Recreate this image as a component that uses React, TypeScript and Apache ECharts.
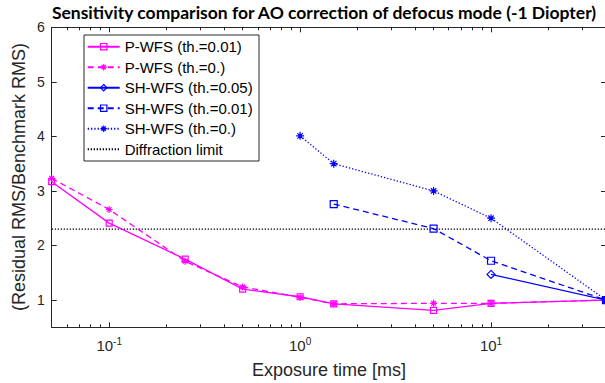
import React, { useEffect, useRef } from "react";
import * as echarts from "echarts";

const xP = [0.05, 0.1, 0.25, 0.5, 1, 1.5, 5, 10, 40];
const pwfs001 = [3.17, 2.41, 1.75, 1.2, 1.06, 0.93, 0.81, 0.94, 1.0];
const pwfs0 = [3.23, 2.66, 1.71, 1.24, 1.05, 0.93, 0.94, 0.94, 1.0];
const xSH005 = [10, 40];
const sh005 = [1.47, 1.0];
const xSH001 = [1.5, 5, 10, 40];
const sh001 = [2.76, 2.31, 1.72, 1.0];
const xSH0 = [1, 1.5, 5, 10, 40];
const sh0 = [4.01, 3.5, 3.0, 2.5, 1.0];
const diffractionX = [0.05, 40];
const diffractionLimit = 2.3;
const xMajorTicks = [0.1, 1, 10];
const xMinorTicks = [0.06, 0.07, 0.08, 0.09, 0.2, 0.3, 0.4, 0.5, 0.6, 0.7, 0.8, 0.9, 2, 3, 4, 5, 6, 7, 8, 9, 20, 30];
const yTicks = [1, 2, 3, 4, 5, 6];

const TITLE = "Sensitivity comparison for AO correction of defocus mode (-1 Diopter)";
const XNAME = "Exposure time [ms]";
const YNAME = "(Residual RMS/Benchmark RMS)";

const MAG = "#ff00ff";
const BLUE = "#0000ff";
const AX = "#262626";
const FONT = "Liberation Sans, Arial, sans-serif";
const ASTER = "path://M5,0L5,10M0,5L10,5M1.6,1.6L8.4,8.4M1.6,8.4L8.4,1.6";
const CLEAR = "rgba(0,0,0,0)";

const zip = (xs: number[], ys: number[]) => xs.map((x, i) => [x, ys[i]]);

const names = [
  "P-WFS (th.=0.01)",
  "P-WFS (th.=0.)",
  "SH-WFS (th.=0.05)",
  "SH-WFS (th.=0.01)",
  "SH-WFS (th.=0.)",
  "Diffraction limit",
];
const legendColors = [MAG, MAG, BLUE, BLUE, BLUE, CLEAR];

export default function App() {
  const ref = useRef<HTMLDivElement>(null);
  useEffect(() => {
    if (!ref.current) return;
    const chart = echarts.init(ref.current, undefined, { renderer: "svg" });
    const xBase = { type: "log", logBase: 10, min: 0.05, max: 40, gridIndex: 0, splitLine: { show: false } };
    const yBase = { type: "value", min: 0.5, max: 6, gridIndex: 0, splitLine: { show: false } };
    const mkSeries = (name: string, data: number[][], color: string, lt: any, symbol: string, size: number) => ({
      name,
      type: "line",
      data,
      symbol,
      symbolSize: size,
      showSymbol: symbol !== "none",
      lineStyle: { color, width: 1.3, type: lt },
      itemStyle: { color: CLEAR, borderColor: color, borderWidth: 1.2 },
      emphasis: { disabled: true },
      silent: true,
      z: 3,
    });
    chart.setOption({
      animation: false,
      grid: { left: 51.7, right: 6, top: 27.3, bottom: 55.7, containLabel: false, outerBoundsMode: "none" },
      xAxis: [
        {
          ...xBase,
          position: "bottom",
          axisLine: { show: true, onZero: false, lineStyle: { color: AX, width: 1 } },
          axisTick: { show: true, inside: true, length: 5, customValues: xMajorTicks, lineStyle: { color: AX } },
          axisLabel: {
            show: true,
            customValues: xMajorTicks,
            margin: 9,
            formatter: (v: number) => `{b|10}{s|${Math.round(Math.log10(v))}}`,
            rich: {
              b: { fontSize: 15, fontFamily: FONT, color: AX, lineHeight: 18 },
              s: { fontSize: 10, fontFamily: FONT, color: AX, lineHeight: 10, verticalAlign: "top" },
            },
          },
        },
        {
          ...xBase,
          position: "bottom",
          axisLine: { show: false, onZero: false },
          axisTick: { show: true, inside: true, length: 3, customValues: xMinorTicks, lineStyle: { color: AX } },
          axisLabel: { show: false },
        },
        {
          ...xBase,
          position: "top",
          axisLine: { show: true, onZero: false, lineStyle: { color: AX, width: 1 } },
          axisTick: { show: true, inside: true, length: 5, customValues: xMajorTicks, lineStyle: { color: AX } },
          axisLabel: { show: false },
        },
        {
          ...xBase,
          position: "top",
          axisLine: { show: false, onZero: false },
          axisTick: { show: true, inside: true, length: 3, customValues: xMinorTicks, lineStyle: { color: AX } },
          axisLabel: { show: false },
        },
      ],
      yAxis: [
        {
          ...yBase,
          position: "left",
          axisLine: { show: true, onZero: false, lineStyle: { color: AX, width: 1 } },
          axisTick: { show: true, inside: true, length: 5, customValues: yTicks, lineStyle: { color: AX } },
          axisLabel: { show: true, customValues: yTicks, margin: 7, fontSize: 14, fontFamily: FONT, color: AX },
        },
        {
          ...yBase,
          position: "right",
          axisLine: { show: true, onZero: false, lineStyle: { color: AX, width: 1 } },
          axisTick: { show: true, inside: true, length: 5, customValues: yTicks, lineStyle: { color: AX } },
          axisLabel: { show: false },
        },
      ],
      legend: {
        left: 86.7,
        top: 39.2,
        orient: "vertical",
        itemWidth: 32,
        itemHeight: 8,
        itemGap: 5.5,
        padding: 0,
        z: 10,
        selectedMode: false,
        textStyle: { fontSize: 15, fontFamily: FONT, color: "#000" },
        data: names.map((n, i) => ({
          name: n,
          itemStyle: { color: CLEAR, borderColor: legendColors[i], borderWidth: 1.2 },
        })),
      },
      graphic: [
        {
          type: "rect",
          shape: { x: 84, y: 35, width: 175, height: 126 },
          style: { fill: "#fff", stroke: AX, lineWidth: 1 },
          z: 4,
          silent: true,
        },
        {
          type: "text",
          x: 324,
          y: 12.5,
          style: { text: TITLE, font: "bold 17.5px Lato, sans-serif", fill: "#000", textAlign: "center", textVerticalAlign: "middle" },
        },
        {
          type: "text",
          x: 329,
          y: 370,
          style: { text: XNAME, font: `18px ${FONT}`, fill: AX, textAlign: "center", textVerticalAlign: "middle" },
        },
        {
          type: "text",
          x: 19,
          y: 177,
          rotation: Math.PI / 2,
          style: { text: YNAME, font: `18px ${FONT}`, fill: AX, textAlign: "center", textVerticalAlign: "middle" },
        },
      ],
      series: [
        mkSeries(names[0], zip(xP, pwfs001), MAG, "solid", "rect", 6),
        mkSeries(names[1], zip(xP, pwfs0), MAG, [6, 4], ASTER, 7),
        mkSeries(names[2], zip(xSH005, sh005), BLUE, "solid", "diamond", 8),
        mkSeries(names[3], zip(xSH001, sh001), BLUE, [6, 4], "rect", 7),
        mkSeries(names[4], zip(xSH0, sh0), BLUE, [1.3, 2], ASTER, 8),
        {
          ...mkSeries(names[5], zip(diffractionX, diffractionX.map(() => diffractionLimit)), "#000", [1.3, 1.7], "none", 0),
          z: 2,
        },
      ],
    });
    return () => chart.dispose();
  }, []);
  return (
    <div style={{ position: "fixed", left: 0, top: 0, width: 605, height: 383, overflow: "hidden", background: "#fff" }}>
      <div ref={ref} style={{ width: 612, height: 383 }} />
    </div>
  );
}
